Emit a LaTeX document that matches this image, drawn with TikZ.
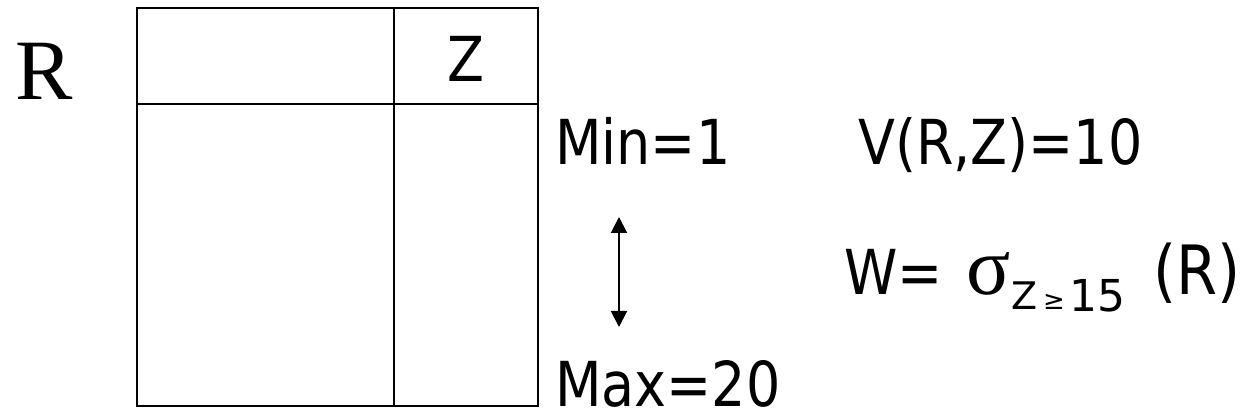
\documentclass[tikz,border=0pt]{standalone}
\usepackage{fontspec}
\usetikzlibrary{arrows.meta}
\newfontfamily\tah[FakeStretch=0.87]{DejaVu Sans}
\newfontfamily\dej{DejaVu Sans}
\newfontfamily\ser{Liberation Serif}
\begin{document}
\begin{tikzpicture}[x=1pt,y=-1pt,
  lbl/.style={inner sep=0pt,anchor=base west,font=\tah\fontsize{62}{70}\selectfont},
  sub/.style={inner sep=0pt,anchor=base west,font=\dej\fontsize{38}{42}\selectfont},
  tbl/.style={line width=2pt,draw=black},
  rng/.style={line width=2pt,>={Triangle[length=16pt,width=16pt]},<->}]
\useasboundingbox (0,0) rectangle (1248,419);
% table
\draw[tbl] (137,8) rectangle (538,406);
\coordinate (hl) at (137,104);
\coordinate (hr) at (538,104);
\coordinate (dt) at (394,8);
\coordinate (db) at (394,406);
\draw[tbl] (hl) -- (hr);
\draw[tbl] (dt) -- (db);
\node[inner sep=0pt,anchor=base west,font=\ser\fontsize{86}{90}\selectfont] (R) at (15,100) {R};
\node[lbl,anchor=base] (Z) at (466,82) {Z};
\node[lbl] (min) at (555,165) {Min=1};
\node[lbl] (v) at (858,165) {V(R,Z)=10};
\node[lbl] (max) at (555,407) {Max=20};
% selection formula
\node[lbl] (w) at (844,295) {W=};
\node[inner sep=0pt,anchor=base west,font=\ser\fontsize{82}{86}\selectfont] (sg) at (966,295) {σ};
\node[sub] (sz) at (1011,310) {Z};
\node[inner sep=0pt,anchor=base west,font=\dej\fontsize{26}{30}\selectfont] (ge) at (1043,310) {≥};
\node[sub,font=\dej\fontsize{44}{48}\selectfont] (s15) at (1069,312) {15};
\node[lbl,font=\tah\fontsize{68}{72}\selectfont] (rp) at (1153,295) {(R)};
% arrow
\coordinate (at) at (619,217);
\coordinate (ab) at (619,327);
\draw[rng] (at) -- (ab);
\end{tikzpicture}
\end{document}
